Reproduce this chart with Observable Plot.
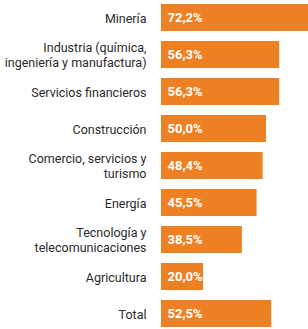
<!DOCTYPE html>
<html>
<head>
<meta charset="utf-8">
<script src="https://cdn.jsdelivr.net/npm/d3@7"></script>
<script src="https://cdn.jsdelivr.net/npm/@observablehq/plot@0.6"></script>
<style>
  html, body { margin: 0; padding: 0; background: #fff; }
  #chart { width: 308px; height: 329px; overflow: hidden; }
</style>
</head>
<body>
<div id="chart"></div>
<script>
const categories = [
  "Minería",
  "Industria (química,\ningeniería y manufactura)",
  "Servicios financieros",
  "Construcción",
  "Comercio, servicios y\nturismo",
  "Energía",
  "Tecnología y\ntelecomunicaciones",
  "Agricultura",
  "Total"
];
const values = [72.2, 56.3, 56.3, 50.0, 48.4, 45.5, 38.5, 20.0, 52.5];
const valueLabels = ["72,2%", "56,3%", "56,3%", "50,0%", "48,4%", "45,5%", "38,5%", "20,0%", "52,5%"];

const data = categories.map((c, i) => ({category: c, value: values[i], label: valueLabels[i]}));

const chart = Plot.plot({
  width: 308,
  height: 329,
  marginTop: 4,
  marginBottom: 1,
  marginLeft: 161,
  marginRight: 0,
  style: {fontFamily: "Roboto, sans-serif", background: "#fff"},
  x: {domain: [0, 70], axis: null},
  y: {domain: categories, paddingInner: 0.27, paddingOuter: 0, label: null, axis: null},
  marks: [
    Plot.barX(data, {x: "value", y: "category", fill: "#EE8024", clip: true}),
    Plot.text(data, {x: 0, y: "category", text: "category", dx: -15, textAnchor: "end", lineAnchor: "middle", lineHeight: 1.17, fontSize: 12.5, fill: "#2a2a2a"}),
    Plot.text(data, {x: 0, y: "category", text: "label", dx: 6, textAnchor: "start", fill: "#fff", fontWeight: "bold", fontSize: 13})
  ]
});
document.getElementById("chart").appendChild(chart);
</script>
</body>
</html>
